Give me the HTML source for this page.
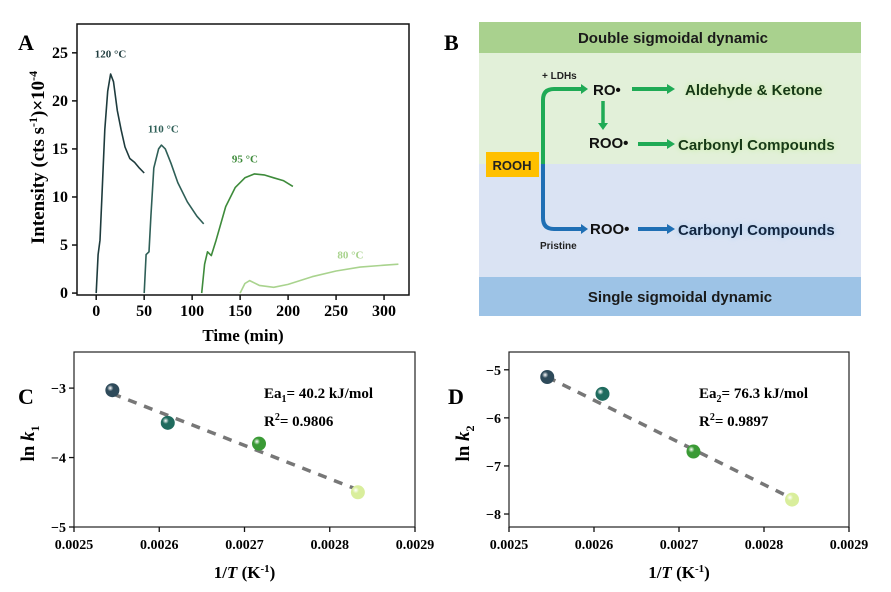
<!DOCTYPE html>
<html><head><meta charset="utf-8"><style>
html,body{margin:0;padding:0;background:#fff;width:891px;height:592px;overflow:hidden}
svg{display:block}
.ser{font-family:"Liberation Serif",serif;font-weight:bold}
.san{font-family:"Liberation Sans",sans-serif;font-weight:bold}
</style></head><body>
<svg id="fig" width="891" height="592" viewBox="0 0 891 592">
<defs>
<filter id="gg" x="-20%" y="-60%" width="140%" height="220%"><feGaussianBlur stdDeviation="3"/></filter>
</defs>
<text class="ser" x="18" y="50" font-size="22">A</text>
<text class="ser" x="444" y="50" font-size="22">B</text>
<text class="ser" x="18" y="404" font-size="22">C</text>
<text class="ser" x="448" y="404" font-size="22">D</text>

<g>
<rect x="479" y="22" width="382" height="31" fill="#a9d18e"/>
<rect x="479" y="53" width="382" height="111" fill="#e2f0d9"/>
<rect x="479" y="164" width="382" height="113" fill="#dae3f3"/>
<rect x="479" y="277" width="382" height="39" fill="#9dc3e6"/>
<text class="san" x="673" y="43" font-size="15" text-anchor="middle" fill="#1a1a1a">Double sigmoidal dynamic</text>
<text class="san" x="680" y="302" font-size="15" text-anchor="middle" fill="#1a1a1a">Single sigmoidal dynamic</text>
<path d="M543,164 V100 Q543,89 554,89 H582" fill="none" stroke="#1faa55" stroke-width="4"/>
<polygon points="581,84 588,89 581,94" fill="#1faa55"/>
<path d="M543,164 V218 Q543,229 554,229 H582" fill="none" stroke="#1f6fb4" stroke-width="4"/>
<polygon points="581,224 588,229 581,234" fill="#1f6fb4"/>
<rect x="486" y="152" width="53" height="25" fill="#ffc000"/>
<text class="san" x="512" y="170" font-size="13" text-anchor="middle" fill="#222">ROOH</text>
<text class="san" x="542" y="79" font-size="10" fill="#222">+ LDHs</text>
<text class="san" x="540" y="249" font-size="10" fill="#222">Pristine</text>
<text class="san" x="593" y="95" font-size="15" fill="#111">RO•</text>
<line x1="603" y1="101" x2="603" y2="124" stroke="#1faa55" stroke-width="3.5"/>
<polygon points="598,123 603,130 608,123" fill="#1faa55"/>
<text class="san" x="589" y="148" font-size="15" fill="#111">ROO•</text>
<text class="san" x="590" y="234" font-size="15" fill="#111">ROO•</text>
<line x1="632" y1="89" x2="668" y2="89" stroke="#1faa55" stroke-width="4"/><polygon points="667,84 675,89 667,94" fill="#1faa55"/>
<line x1="638" y1="144" x2="668" y2="144" stroke="#1faa55" stroke-width="4"/><polygon points="667,139 675,144 667,149" fill="#1faa55"/>
<line x1="638" y1="229" x2="668" y2="229" stroke="#1f6fb4" stroke-width="4"/><polygon points="667,224 675,229 667,234" fill="#1f6fb4"/>
<g class="san" font-size="15">
<text x="685" y="95" fill="#c5ec9c" filter="url(#gg)">Aldehyde &amp;  Ketone</text>
<text x="685" y="95" fill="#173a17">Aldehyde &amp;  Ketone</text>
<text x="678" y="150" fill="#c5ec9c" filter="url(#gg)">Carbonyl Compounds</text>
<text x="678" y="150" fill="#173a17">Carbonyl Compounds</text>
<text x="678" y="235" fill="#9cc8f0" filter="url(#gg)">Carbonyl Compounds</text>
<text x="678" y="235" fill="#12253f">Carbonyl Compounds</text>
</g>
</g>
<g id="pa"></g><g id="pc"></g><g id="pd"></g>
</svg>
<script>
// Panel A data
const aLabels = ["120 °C","110 °C","95 °C","80 °C"];
const aColors = ["#1e3b3d","#2f5f57","#3e8b3b","#a9d38e"];
const t120 = [0,2,4,6,9,12,15,18,22,26,30,35,40,45,50];
const i120 = [0,4,5.5,10,17,21,22.8,22,19,17,15.2,14,13.6,13,12.5];
const t110 = [50,52,55,57,60,65,68,72,78,85,95,105,112];
const i110 = [0,4,4.3,8,13,15,15.4,15,13.5,11.5,9.5,8,7.2];
const t95 = [110,113,116,120,125,135,145,155,165,175,185,195,205];
const i95 = [0,3,4.3,3.9,5.5,9,11,12,12.4,12.3,12,11.7,11.1];
const t80 = [150,155,160,170,185,200,225,250,275,300,315];
const i80 = [0,1,1.3,0.8,0.6,0.9,1.7,2.3,2.7,2.9,3];
const aLabelPos = [[15,24.5],[70,16.7],[155,13.6],[265,3.6]];
const aXTicks = [0,50,100,150,200,250,300];
const aYTicks = [0,5,10,15,20,25];
// Panel C/D data
const invT = [0.002545,0.00261,0.002717,0.002833];
const lnk1 = [-3.03,-3.5,-3.8,-4.5];
const lnk2 = [-5.15,-5.5,-6.7,-7.7];
const fit1 = [[0.002545,-3.08],[0.00283,-4.45]];
const fit2 = [[0.002545,-5.15],[0.00283,-7.65]];
const ptColors = ["#2e4a5a","#1f6b5e","#3a9a35","#d9ee9c"];
const kXTicks = [0.0025,0.0026,0.0027,0.0028,0.0029];
const c1YTicks = [-3,-4,-5];
const c2YTicks = [-5,-6,-7,-8];

const NS="http://www.w3.org/2000/svg";
function mk(p,tag,at){const e=document.createElementNS(NS,tag);for(const k in at)e.setAttribute(k,at[k]);p.appendChild(e);return e;}
function txt(p,x,y,s,sz,extra){const e=mk(p,"text",Object.assign({x:x,y:y,"font-size":sz,"class":"ser"},extra||{}));e.textContent=s;return e;}

(function(){
const g=document.getElementById("pa");
const L=77,R=409,T=24,B=295,x0=-20,x1=326,y0=-0.2,y1=28;
const X=v=>L+(v-x0)/(x1-x0)*(R-L), Y=v=>B-(v-y0)/(y1-y0)*(B-T);
const fr=mk(g,"rect",{x:L,y:T,width:R-L,height:B-T,fill:"none",stroke:"#111","stroke-width":1.5});


aXTicks.forEach(v=>{mk(g,"line",{x1:X(v),x2:X(v),y1:B,y2:B+5,stroke:"#111","stroke-width":1.5});
 const t=txt(g,X(v),B+21,String(v),16,{"text-anchor":"middle"});
 
 });
aYTicks.forEach(v=>{mk(g,"line",{x1:L-5,x2:L,y1:Y(v),y2:Y(v),stroke:"#111","stroke-width":1.5});
 const t=txt(g,L-9,Y(v)+5,String(v),16,{"text-anchor":"end"});
 
 });
const xt=txt(g,(L+R)/2,B+46,"Time (min)",17,{"text-anchor":"middle"});


const yt=txt(g,0,0,"",19,{"text-anchor":"middle",transform:"translate(44,"+((T+B)/2-2)+") rotate(-90)"});
yt.innerHTML='Intensity (cts s<tspan dy="-7" font-size="12">-1</tspan><tspan dy="7">)×10</tspan><tspan dy="-7" font-size="12">-4</tspan>';


const series=[[t120,i120],[t110,i110],[t95,i95],[t80,i80]];
series.forEach((s,k)=>{
 const d=s[0].map((t,i)=>(i?"L":"M")+X(t).toFixed(1)+","+Y(s[1][i]).toFixed(1)).join(" ");
 const p=mk(g,"path",{d:d,fill:"none",stroke:aColors[k],"stroke-width":1.6,"stroke-linejoin":"round"});
 
 
 const lb=txt(g,X(aLabelPos[k][0]),Y(aLabelPos[k][1]),aLabels[k],11,{"text-anchor":"middle",fill:aColors[k],"font-weight":"normal"});
 
 
});
})();

function kPanel(id,L,R,ymin,ymax,vals,fit,yTicks,sub,ea,r2){
 const g=document.getElementById(id);
 const T=352,B=527,x0=0.0025,x1=0.0029;
 const X=v=>L+(v-x0)/(x1-x0)*(R-L), Y=v=>B-(v-ymin)/(ymax-ymin)*(B-T);
 const fr=mk(g,"rect",{x:L,y:T,width:R-L,height:B-T,fill:"none",stroke:"#222","stroke-width":1.2});
 
 
 kXTicks.forEach(v=>{mk(g,"line",{x1:X(v),x2:X(v),y1:B,y2:B+5,stroke:"#111","stroke-width":1.3});
  const t=txt(g,X(v),B+22,v.toFixed(4),14,{"text-anchor":"middle"});
  
  });
 yTicks.forEach(v=>{mk(g,"line",{x1:L-5,x2:L,y1:Y(v),y2:Y(v),stroke:"#111","stroke-width":1.3});
  const t=txt(g,L-8,Y(v)+5,"−"+Math.abs(v),14,{"text-anchor":"end"});
  
  });
 const xt=txt(g,(L+R)/2,B+51,"",17,{"text-anchor":"middle"});
 xt.innerHTML='1/<tspan font-style="italic">T</tspan> (K<tspan dy="-6" font-size="11">-1</tspan><tspan dy="6">)</tspan>';
 
 
 const yt=txt(g,0,0,"",19,{"text-anchor":"middle",transform:"translate("+(L-40)+","+((T+B)/2+4)+") rotate(-90)"});
 yt.innerHTML='ln <tspan font-style="italic">k</tspan><tspan dy="5" font-size="12">'+sub+'</tspan>';
 
 
 const fl=mk(g,"line",{x1:X(fit[0][0]),y1:Y(fit[0][1]),x2:X(fit[1][0]),y2:Y(fit[1][1]),stroke:"#777","stroke-width":3.5,"stroke-dasharray":"9,8"});
 
 
 const defs=mk(g,"defs",{});
 invT.forEach((v,i)=>{
  const gid=id+"g"+i;
  const rg=mk(defs,"radialGradient",{id:gid,cx:"35%",cy:"35%",r:"65%"});
  mk(rg,"stop",{offset:"0",  "stop-color":"#ffffff"});
  mk(rg,"stop",{offset:"0.35","stop-color":ptColors[i]});
  mk(rg,"stop",{offset:"1","stop-color":ptColors[i]});
  const c=mk(g,"circle",{cx:X(v),cy:Y(vals[i]),r:7,fill:"url(#"+gid+")"});
  
  
 });
 const e=txt(g,L+190,398,"",15,{});
 e.innerHTML='Ea<tspan dy="4" font-size="10">'+sub+'</tspan><tspan dy="-4">= '+ea+' kJ/mol</tspan>';
 
 
 const r=txt(g,L+190,426,"",15,{});
 r.innerHTML='R<tspan dy="-6" font-size="10">2</tspan><tspan dy="6">= '+r2+'</tspan>';
 
 
}
kPanel("pc",74,415,-5,-2.48,lnk1,fit1,c1YTicks,"1","40.2","0.9806");
kPanel("pd",509,849,-8.27,-4.63,lnk2,fit2,c2YTicks,"2","76.3","0.9897");
</script>
</body></html>
